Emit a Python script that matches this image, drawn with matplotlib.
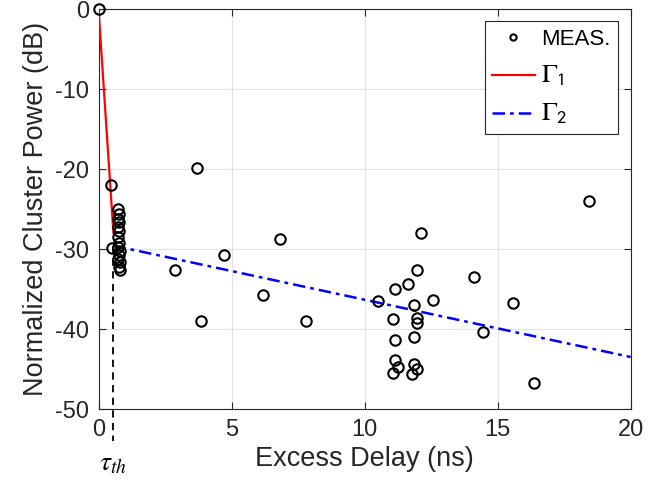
import matplotlib

matplotlib.use("Agg")
import matplotlib.pyplot as plt

plt.rcParams["font.family"] = ["Liberation Sans", "DejaVu Sans"]
plt.rcParams["mathtext.fontset"] = "stix"
plt.rcParams["axes.unicode_minus"] = False

# measured clusters: excess delay (ns) and normalized power (dB)
meas_delay = [
    0.0, 0.47, 0.52,
    0.74, 0.76, 0.74, 0.78, 0.74, 0.76, 0.74, 0.78, 0.74, 0.80, 0.76, 0.74, 0.80, 0.76, 0.82,
    2.88, 3.69, 3.85, 4.73, 6.18, 6.82, 7.79,
    10.52, 11.06, 11.15, 11.15, 11.15, 11.25, 11.06,
    11.64, 11.86, 11.96, 11.96, 11.96, 11.86, 11.86, 11.96, 11.79, 12.11,
    12.59, 14.13, 14.44, 15.57, 16.37, 18.45,
]
meas_power = [
    0.0, -22.0, -29.9,
    -25.0, -25.6, -26.2, -26.6, -27.3, -27.8, -28.5, -29.2, -29.8, -30.3, -30.8, -31.2, -31.6, -32.2, -32.6,
    -32.6, -19.9, -39.0, -30.8, -35.8, -28.7, -39.0,
    -36.5, -38.8, -35.0, -41.4, -43.9, -44.7, -45.5,
    -34.4, -37.0, -32.6, -38.6, -39.2, -41.0, -44.4, -45.0, -45.6, -28.0,
    -36.4, -33.5, -40.4, -36.75, -46.7, -24.0,
]

# two-slope fit
tau_th = 0.56
gamma1_slope = -50.0       # dB/ns, first segment from (0, 0)
gamma2_icpt = -29.17       # dB
gamma2_slope = -0.7165     # dB/ns
x_max = 20

fig = plt.figure(figsize=(6.68, 4.90), dpi=100)
ax = fig.add_axes([0.1475, 0.1653, 0.7965, 0.8163])

ink = "#262626"

x1 = [0, tau_th]
y1 = [gamma1_slope * v for v in x1]
x2 = [tau_th, x_max]
y2 = [gamma2_icpt + gamma2_slope * v for v in x2]

ax.plot(x1, y1, color="red", lw=1.6, label=r"$\Gamma_{\mathsf{1}}$", zorder=3)
ax.plot(x2, y2, color="blue", lw=1.8, ls=(0, (5, 2, 1.5, 2)),
        label=r"$\Gamma_{\mathsf{2}}$", zorder=3)
ax.plot(meas_delay, meas_power, ls="none", marker="o", ms=7.5, mfc="none",
        mec="black", mew=1.5, label="MEAS.", zorder=4, clip_on=False)

# threshold marker below the fit knee
ax.plot([tau_th, tau_th], [gamma2_icpt + gamma2_slope * tau_th, -54], color="black",
        lw=1.3, ls=(0, (4, 3)), clip_on=False, zorder=2)
ax.text(tau_th, -56.8, r"$\tau_{th}$", ha="center", va="center", fontsize=20,
        color="black")

ax.set_xlim(0, x_max)
ax.set_ylim(-50, 0)
ax.set_xticks(range(0, 21, 5))
ax.set_yticks(range(-50, 1, 10))
ax.grid(True, color="#e3e3e3", lw=0.8)
ax.set_axisbelow(True)
ax.tick_params(direction="in", length=5, width=0.8, top=True, right=True,
               labelsize=17, colors=ink, pad=7)
for sp in ax.spines.values():
    sp.set_color(ink)
    sp.set_linewidth(0.8)

ax.set_xlabel("Excess Delay (ns)", fontsize=19.5, color=ink, labelpad=4)
ax.set_ylabel("Normalized Cluster Power (dB)", fontsize=19.5, color=ink, labelpad=4)

h, l = ax.get_legend_handles_labels()
order = [2, 0, 1]
leg = ax.legend([h[i] for i in order], [l[i] for i in order], loc="upper right",
                fontsize=16, fancybox=False, framealpha=1, edgecolor=ink,
                handlelength=1.9, handletextpad=0.3, labelspacing=0.6,
                borderpad=0.35, borderaxespad=0.55, markerscale=0.6)
leg.get_frame().set_linewidth(0.8)
for t in leg.get_texts()[1:]:
    t.set_fontsize(19)

fig.savefig("out.png", dpi=100)
